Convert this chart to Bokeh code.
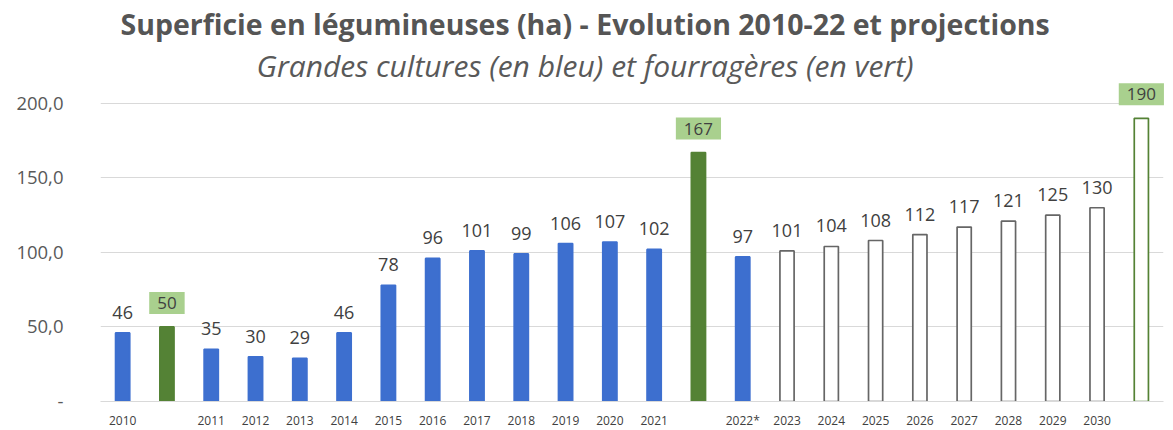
from bokeh.plotting import figure
from bokeh.models import ColumnDataSource, LabelSet, Range1d, FixedTicker, Title
from bokeh.core.properties import value
from bokeh.embed import file_html
from bokeh.resources import INLINE

categories = ["2010", "F2010", "2011", "2012", "2013", "2014", "2015", "2016", "2017",
              "2018", "2019", "2020", "2021", "F2021", "2022*", "2023", "2024", "2025",
              "2026", "2027", "2028", "2029", "2030", "F2030"]
values = [46, 50, 35, 30, 29, 46, 78, 96, 101, 99, 106, 107, 102, 167, 97,
          101, 104, 108, 112, 117, 121, 125, 130, 190]
kinds = ["gc", "fo", "gc", "gc", "gc", "gc", "gc", "gc", "gc", "gc", "gc", "gc", "gc", "fo",
         "gc", "pgc", "pgc", "pgc", "pgc", "pgc", "pgc", "pgc", "pgc", "pfo"]
y_ticks = [0, 50, 100, 150, 200]
y_tick_labels = ["-", "50,0", "100,0", "150,0", "200,0"]

fill_map = {"gc": "#3D6FCF", "fo": "#548235", "pgc": "white", "pfo": "white"}
line_map = {"gc": "#3D6FCF", "fo": "#548235", "pgc": "#666666", "pfo": "#548235"}

pos = list(range(len(categories)))
is_fo = [k in ("fo", "pfo") for k in kinds]

src = ColumnDataSource(dict(
    x=pos, val=values,
    fill=[fill_map[k] for k in kinds], line=[line_map[k] for k in kinds]))
src_plain = ColumnDataSource(dict(
    x=[i for i, f in zip(pos, is_fo) if not f],
    val=[v for v, f in zip(values, is_fo) if not f],
    lbl=[str(v) for v, f in zip(values, is_fo) if not f]))
src_green = ColumnDataSource(dict(
    x=[i for i, f in zip(pos, is_fo) if f],
    val=[v for v, f in zip(values, is_fo) if f],
    lbl=[str(v) for v, f in zip(values, is_fo) if f]))

p = figure(frame_width=1063, frame_height=316,
           x_range=Range1d(-0.5, len(categories) - 0.5), y_range=Range1d(0, 212),
           output_backend="svg", toolbar_location=None,
           min_border_left=100, min_border_right=10, min_border_bottom=29, min_border_top=85)
p.outline_line_color = None
p.background_fill_color = "white"

p.vbar(x="x", top="val", width=0.32, source=src, fill_color="fill",
       line_color="line", line_width=1.7)

FONT = "Open Sans"
LBL_COLOR = "#404040"
p.add_layout(LabelSet(x="x", y="val", text="lbl", source=src_plain, text_align="center",
                      text_baseline="bottom", y_offset=14, text_font=value(FONT),
                      text_font_size=value("18px"), text_color=value(LBL_COLOR)))
p.text(x="x", y="val", text="lbl", source=src_green, text_align="center",
       text_baseline="bottom", y_offset=-13, text_font=value(FONT),
       text_font_size="17px", text_color=LBL_COLOR,
       background_fill_color="#A9D08E", padding=dict(x=8, y=5), level="overlay")

p.xgrid.grid_line_color = None
p.ygrid.grid_line_color = "#d9d9d9"
p.ygrid.ticker = FixedTicker(ticks=y_ticks)

p.yaxis.ticker = FixedTicker(ticks=y_ticks)
p.yaxis.major_label_overrides = {t: l for t, l in zip(y_ticks, y_tick_labels)}
p.yaxis.axis_line_color = None
p.yaxis.major_tick_line_color = None
p.yaxis.minor_tick_line_color = None
p.yaxis.major_tick_out = 0
p.yaxis.major_label_text_font = FONT
p.yaxis.major_label_text_font_size = "18.5px"
p.yaxis.major_label_text_color = "#595959"
p.yaxis.major_label_standoff = 37

x_ticks = [i for i, f in zip(pos, is_fo) if not f]
p.xaxis.ticker = FixedTicker(ticks=x_ticks)
p.xaxis.major_label_overrides = {i: c for i, c, f in zip(pos, categories, is_fo) if not f}
p.xaxis.axis_line_color = "#d9d9d9"
p.xaxis.major_tick_line_color = None
p.xaxis.minor_tick_line_color = None
p.xaxis.major_tick_out = 0
p.xaxis.major_tick_in = 0
p.xaxis.minor_tick_out = 0
p.xaxis.major_label_text_font = FONT
p.xaxis.major_label_text_font_size = "12px"
p.xaxis.major_label_text_color = "#404040"
p.xaxis.major_label_standoff = 10

p.add_layout(Title(text="Grandes cultures (en bleu) et fourragères (en vert)", align="left",
                   text_font=FONT, text_font_style="italic", text_font_size="30px",
                   text_color="#595959", standoff=0, offset=156), "above")
p.add_layout(Title(text="Superficie en légumineuses (ha) - Evolution 2010-22 et projections",
                   align="left", text_font=FONT, text_font_style="bold",
                   text_font_size="28.5px", text_color="#555555", standoff=0, offset=20), "above")

open("out.html", "w").write(file_html(p, INLINE))
